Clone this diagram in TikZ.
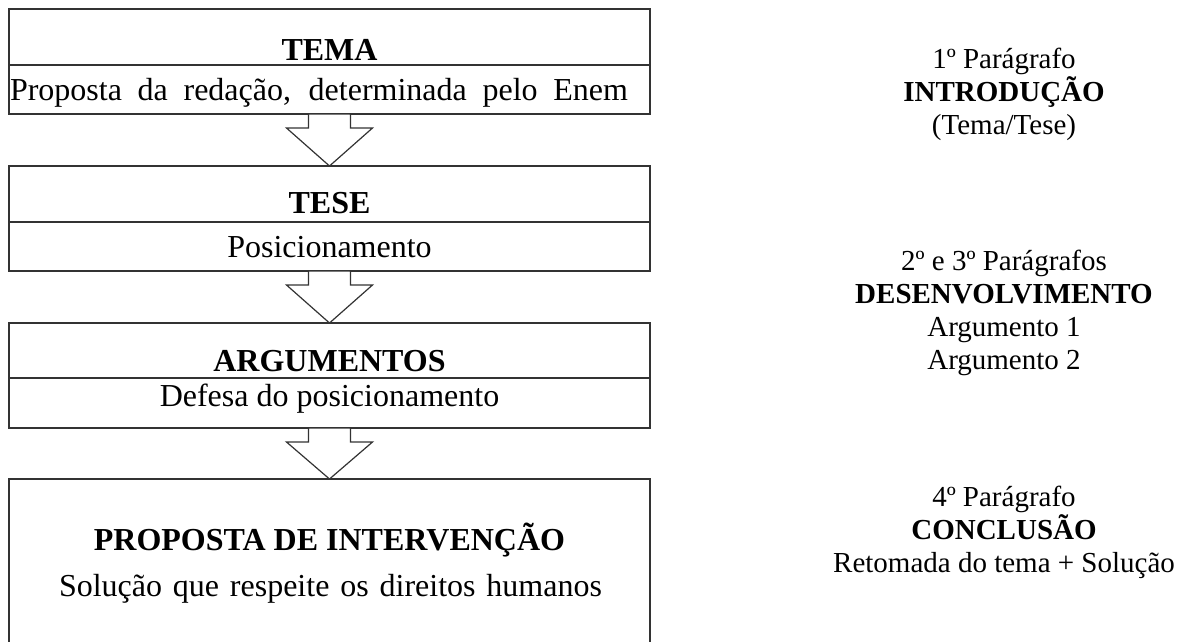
\documentclass[tikz,border=0pt]{standalone}
\usepackage{fontspec}
\setmainfont{Liberation Serif}
\usetikzlibrary{positioning,calc}
\newcommand{\fsleft}{\fontsize{32}{38}\selectfont}
\newcommand{\fsright}{\fontsize{29}{33}\selectfont}
\tikzset{
  cell/.style={draw=black!80, line width=1.2pt, outer sep=0pt, inner sep=0pt, minimum width=641pt},
  fatarrow/.style={draw=black!80, line width=1.2pt, fill=white,
    to path={let \p1=(\tikztostart), \p2=(\tikztotarget) in
      (\x1-21pt,\y1) -- (\x1+21pt,\y1) -- (\x1+21pt,\y1-14pt) -- (\x1+43pt,\y1-14pt)
      -- (\x2,\y2) -- (\x1-43pt,\y1-14pt) -- (\x1-21pt,\y1-14pt) -- cycle}},
  txt/.style={anchor=base, inner sep=0pt, font=\fsleft},
  side/.style={anchor=base, inner sep=0pt, align=center, font=\fsright},
}
\begin{document}
\begin{tikzpicture}[x=1pt,y=-1pt]
\useasboundingbox (0,0) rectangle (1182,641);
% boxes
\node[cell, minimum height=56pt] (tema) at (329.5,37) {};
\node[cell, minimum height=49pt, below=0pt of tema] (temab) {};
\node[cell, minimum height=56pt, below=52pt of temab] (tese) {};
\node[cell, minimum height=49pt, below=0pt of tese] (teseb) {};
\node[cell, minimum height=55pt, below=52pt of teseb] (arg) {};
\node[cell, minimum height=50pt, below=0pt of arg] (argb) {};
\node[cell, minimum height=164pt, below=51pt of argb] (prop) {};
%----------------------------------
\draw[fatarrow] (temab.south) to (tese.north);
\draw[fatarrow] (teseb.south) to (arg.north);
\draw[fatarrow] (argb.south) to (prop.north);
%----------------------------------
\node[txt, font=\fsleft\bfseries] (ttema) at (329.5,60) {TEMA};
\node[txt] (tpropo) at (319,100) {\makebox[618pt][s]{Proposta da redação, determinada pelo Enem}};
\node[txt, font=\fsleft\bfseries] (ttese) at (329.5,213) {TESE};
\node[txt] (tposic) at (329.5,257) {Posicionamento};
\node[txt, font=\fsleft\bfseries] (targ) at (329.5,371) {ARGUMENTOS};
\node[txt] (tdefesa) at (329.5,406) {Defesa do posicionamento};
\node[txt, font=\fsleft\bfseries] (tprop) at (329.5,550) {PROPOSTA DE INTERVENÇÃO};
\node[txt] (tsol) at (330.5,596) {\makebox[543pt][s]{Solução que respeite os direitos humanos}};
%----------------------------------
% base anchor sits on the last line
\node[side] (intro) at (1004,134) {1º Parágrafo\\ \textbf{INTRODUÇÃO}\\ (Tema/Tese)};
\node[side] (desenv) at (1004,369) {2º e 3º Parágrafos\\ \textbf{DESENVOLVIMENTO}\\ Argumento 1\\ Argumento 2};
\node[side] (concl) at (1004,572) {4º Parágrafo\\ \textbf{CONCLUSÃO}\\ Retomada do tema + Solução};
\end{tikzpicture}
\end{document}
